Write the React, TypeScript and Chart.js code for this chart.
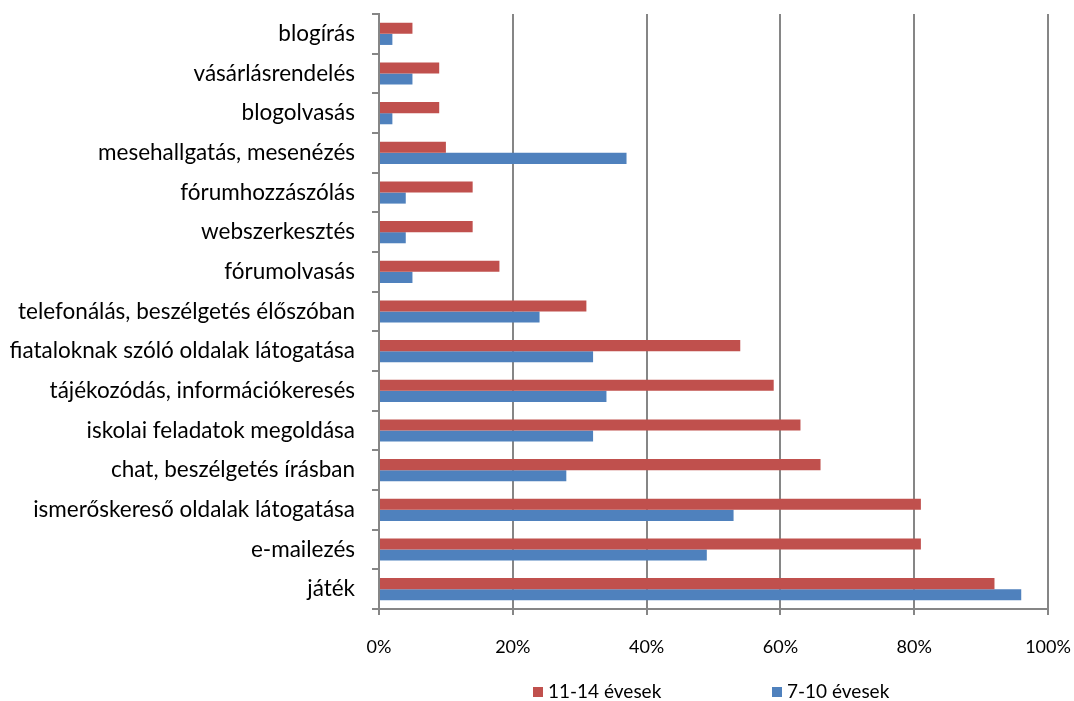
import React, { useEffect, useRef } from "react";
import { Chart, registerables } from "chart.js";

Chart.register(...registerables);

const categories = [
  "blogírás",
  "vásárlásrendelés",
  "blogolvasás",
  "mesehallgatás, mesenézés",
  "fórumhozzászólás",
  "webszerkesztés",
  "fórumolvasás",
  "telefonálás, beszélgetés élőszóban",
  "fiataloknak szóló oldalak látogatása",
  "tájékozódás, információkeresés",
  "iskolai feladatok megoldása",
  "chat, beszélgetés írásban",
  "ismerőskereső oldalak látogatása",
  "e-mailezés",
  "játék",
];

const older = [5, 9, 9, 10, 14, 14, 18, 31, 54, 59, 63, 66, 81, 81, 92];
const younger = [2, 5, 2, 37, 4, 4, 5, 24, 32, 34, 32, 28, 53, 49, 96];

const seriesNames = ["11-14 évesek", "7-10 évesek"];
const seriesColors = ["#C0504D", "#4F81BD"];

const FONT = "Lato, 'Open Sans', sans-serif";

export default function App() {
  const ref = useRef<HTMLCanvasElement>(null);

  useEffect(() => {
    document.body.style.margin = "0";
    const chart = new Chart(ref.current!, {
      type: "bar",
      data: {
        labels: categories,
        datasets: [
          {
            label: seriesNames[0],
            data: older,
            backgroundColor: seriesColors[0],
            barPercentage: 1,
            categoryPercentage: 0.56,
          },
          {
            label: seriesNames[1],
            data: younger,
            backgroundColor: seriesColors[1],
            barPercentage: 1,
            categoryPercentage: 0.56,
          },
        ],
      },
      options: {
        indexAxis: "y",
        animation: false,
        responsive: false,
        maintainAspectRatio: false,
        layout: { padding: { top: 14, right: 26, left: 0, bottom: 0 } },
        plugins: {
          legend: { display: false },
          tooltip: { enabled: false },
        },
        scales: {
          x: {
            min: 0,
            max: 100,
            ticks: {
              stepSize: 20,
              callback: (v: any) => v + "%",
              color: "#000",
              font: { family: FONT, size: 18 },
              padding: 21,
            },
            grid: {
              color: "#868686",
              lineWidth: 2,
              tickLength: 6,
              drawOnChartArea: true,
            },
            border: { color: "#868686", width: 2 },
            afterFit: (scale: any) => {
              scale.height = 92;
              scale.paddingLeft = 0;
              scale.paddingRight = 0;
            },
          },
          y: {
            ticks: {
              color: "#000",
              font: { family: FONT, size: 22.5 },
              padding: 17,
            },
            grid: {
              color: "#868686",
              lineWidth: 2,
              tickLength: 7,
              drawOnChartArea: false,
              offset: true,
            },
            border: { color: "#868686", width: 2 },
            afterFit: (scale: any) => {
              scale.width = 379;
              scale.paddingTop = 0;
              scale.paddingBottom = 0;
            },
          },
        },
      },
    });
    return () => chart.destroy();
  }, []);

  return (
    <div style={{ position: "relative", width: 1074, height: 701 }}>
      <canvas ref={ref} width={1074} height={701} style={{ display: "block" }} />
      {seriesNames.map((n, i) => (
        <div
          key={n}
          style={{
            position: "absolute",
            top: 680,
            left: i === 0 ? 533 : 772,
            display: "flex",
            alignItems: "center",
            whiteSpace: "nowrap",
            fontFamily: FONT,
            fontSize: 19,
            lineHeight: "22px",
            color: "#000",
          }}
        >
          <span
            style={{
              display: "inline-block",
              width: 10,
              height: 10,
              background: seriesColors[i],
              marginRight: 5,
              marginTop: 2,
            }}
          />
          {n}
        </div>
      ))}
    </div>
  );
}
